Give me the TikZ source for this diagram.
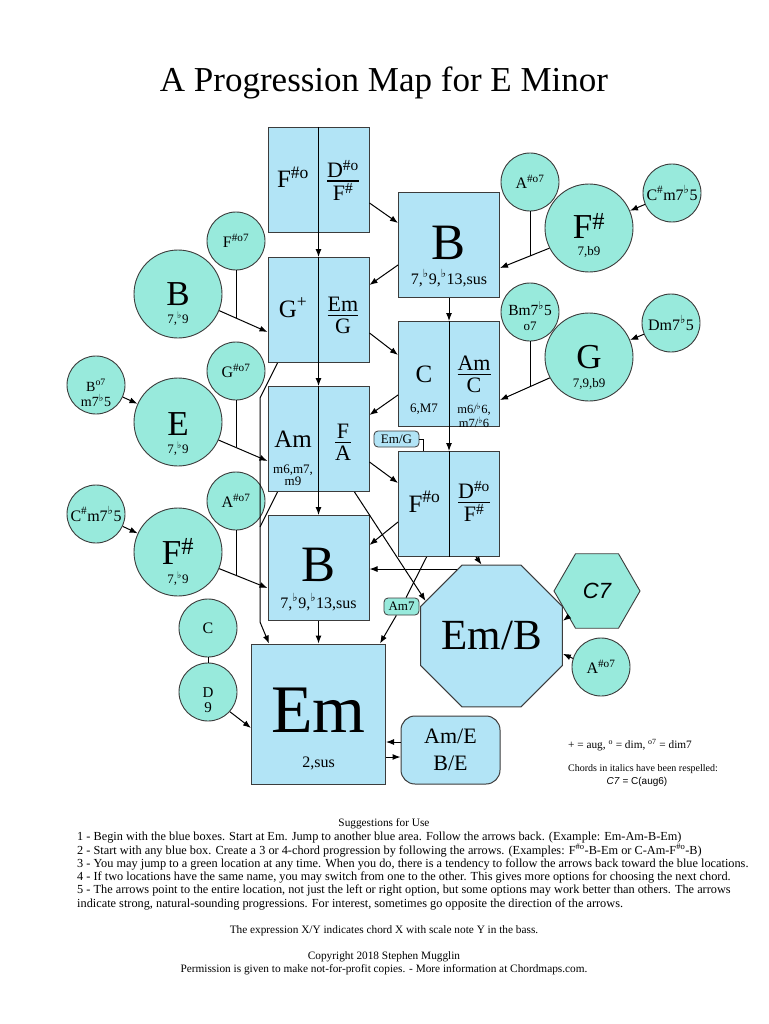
\documentclass[tikz,border=0pt]{standalone}
\usepackage{fontspec}
\setmainfont{Liberation Serif}
\newfontfamily\legendsans{Liberation Sans}
\newfontfamily\flatfont{DejaVu Sans}
\usetikzlibrary{shapes.geometric,arrows.meta,calc}

\definecolor{boxblue}{RGB}{178,228,246}
\definecolor{chordgreen}{RGB}{152,234,220}
\definecolor{rim}{RGB}{60,60,60}

\newcommand{\fsz}[2]{\fontsize{#1}{#2}\selectfont}
\newcommand{\shp}{\textsuperscript{\#}}
\newcommand{\flt}{\textsuperscript{{\flatfont ♭}}}
\newcommand{\chfrac}[2]{{\setlength{\arrayrulewidth}{1.5pt}%
  \begin{tabular}{@{}c@{}}#1\\[-4.5pt]\hline\noalign{\vskip 1pt}#2\end{tabular}}}

\begin{document}
\begin{tikzpicture}[x=1pt, y=-1pt,
  box/.style={rectangle, draw=rim, line width=1pt, fill=boxblue,
    minimum width=101pt, minimum height=105pt, inner sep=0pt},
  bigc/.style={circle, draw=rim, line width=0.9pt, fill=chordgreen,
    minimum size=88pt, inner sep=0pt},
  smallc/.style={circle, draw=rim, line width=0.9pt, fill=chordgreen,
    minimum size=58pt, inner sep=0pt, font=\fsz{16}{16}},
  tag/.style={rectangle, rounded corners=4pt, draw=rim, line width=0.8pt,
    minimum height=16pt, inner sep=0pt, font=\fsz{13}{14}},
  lbl/.style={anchor=base, inner sep=0pt, font=\fsz{25}{28}},
  frc/.style={inner sep=0pt, font=\fsz{22}{24}},
  subl/.style={anchor=base, inner sep=0pt, font=\fsz{16}{18}},
  note/.style={inner sep=0pt, align=center, font=\fsz{13}{12}},
  chord/.style={anchor=base, inner sep=0pt, font=\fsz{35}{38}},
  ext/.style={anchor=base, inner sep=0pt, font=\fsz{13}{14}},
  txt/.style={anchor=base, inner sep=0pt, font=\fsz{11.3}{13}},
  arr/.style={-{Latex[length=8pt,width=6pt]}, line width=1pt},
  link/.style={line width=1pt}
]
\fill[white] (0,0) rectangle (768,1024);
\useasboundingbox (0,0) rectangle (768,1024);

\node[anchor=base, font=\fsz{35}{40}] (title) at (384,92) {A Progression Map for E Minor};

% blue locations
\node[box] (fa) at (318.5,180) {};
\node[box] (ba) at (449,245) {};
\node[box] (ga) at (318.5,310) {};
\node[box] (ca) at (449,374) {};
\node[box] (aa) at (318.5,439) {};
\node[box] (fb) at (449,504) {};
\node[box] (bb) at (318.5,568) {};
\node[box, minimum width=134pt, minimum height=140pt] (em) at (318.5,714) {};
\node[box, rounded corners=14pt, minimum width=99pt, minimum height=68pt,
  align=center, font=\fsz{22}{27}] (ambe) at (450.5,750) {Am/E\\B/E};
\node[regular polygon, regular polygon sides=8, minimum size=146pt, draw=rim,
  line width=1pt, fill=boxblue, inner sep=0pt, font=\fsz{43}{45}] (emb) at (491.5,636) {Em/B};
\foreach \b in {fa,ga,ca,aa,fb} \draw[line width=1pt] (\b.north) -- (\b.south);

\node[lbl] (faL) at (293,188) {F\textsuperscript{\#o}};
\node[frc] (faR) at (343,184) {\chfrac{D\textsuperscript{\#o}}{F\shp}};
\node[anchor=base, font=\fsz{51}{51}] (baL) at (449,259) {B};
\node[subl] (baS) at (449,284) {7,\flt9,\flt13,sus};
\node[lbl] (gaL) at (293,317) {G\textsuperscript{+}};
\node[frc] (gaR) at (343,318) {\chfrac{Em}{G}};
\node[lbl] (caL) at (424,382) {C};
\node[anchor=base, inner sep=0pt, font=\fsz{13}{13}] (caS) at (424,412) {6,M7};
\node[frc] (caR) at (474,377) {\chfrac{Am}{C}};
\node[note, anchor=north, font=\fsz{12.5}{10.5}] (caT) at (474,403) {m6/\flt6,\\m7/\flt6};
\node[lbl] (aaL) at (293,447) {Am};
\node[note, anchor=north] (aaS) at (293,465) {m6,m7,\\m9};
\node[frc] (aaR) at (343,445) {\chfrac{F}{A}};
\node[lbl] (fbL) at (424.5,512) {F\textsuperscript{\#o}};
\node[frc] (fbR) at (474,505) {\chfrac{D\textsuperscript{\#o}}{F\shp}};
\node[anchor=base, font=\fsz{51}{51}] (bbL) at (318.5,581) {B};
\node[subl] (bbS) at (318.5,608) {7,\flt9,\flt13,sus};
\node[anchor=base, font=\fsz{68}{68}] (emL) at (318.5,732) {Em};
\node[subl] (emS) at (318.5,767) {2,sus};

\node[tag, fill=boxblue, minimum width=45pt] (emg) at (396.5,439) {Em/G};
\node[tag, fill=chordgreen, minimum width=35pt, minimum height=17pt] (am7) at (401.5,606.5) {Am7};

% green locations
\node[smallc] (asA) at (530,182) {A\textsuperscript{\#o7}};
\node[bigc] (fsA) at (589,228) {};
\node[chord] (fsAL) at (589,239) {F\shp};
\node[ext] (fsAS) at (589,255) {7,b9};
\node[smallc] (csA) at (672,193) {C\shp m7\flt5};
\node[smallc] (fsd) at (236,241) {F\textsuperscript{\#o7}};
\node[bigc] (bA) at (178,294) {};
\node[chord] (bAL) at (178,305) {B};
\node[ext] (bAS) at (178,323) {7,\flt9};
\node[smallc] (bmd) at (530,312) {};
\node[anchor=base, inner sep=0pt, font=\fsz{15.5}{16}] (bmdL) at (530,315) {Bm7\flt5};
\node[anchor=base, inner sep=0pt, font=\fsz{13}{13}] (bmdS) at (530,330) {o7};
\node[bigc] (gA) at (589,357) {};
\node[chord] (gAL) at (589,368) {G};
\node[ext] (gAS) at (589,387) {7,9,b9};
\node[smallc] (dmd) at (671,323) {Dm7\flt5};
\node[smallc] (gsd) at (236,371) {G\textsuperscript{\#o7}};
\node[smallc] (bdm) at (96,385) {};
\node[note, font=\fsz{14}{15.5}] (bdmL) at (96,393) {B\textsuperscript{o7}\\m7\flt5};
\node[bigc] (eA) at (178,422) {};
\node[chord] (eAL) at (178,435) {E};
\node[ext] (eAS) at (178,453) {7,\flt9};
\node[smallc] (asB) at (236,501) {A\textsuperscript{\#o7}};
\node[smallc] (csB) at (96,514) {C\shp m7\flt5};
\node[bigc] (fsB) at (178,552) {};
\node[chord] (fsBL) at (178,564) {F\shp};
\node[ext] (fsBS) at (178,583) {7,\flt9};
\node[smallc] (cC) at (208,628) {C};
\node[smallc] (dD) at (208,692) {};
\node[note, font=\fsz{15}{14.5}] (dDL) at (208,700) {D\\9};
\node[smallc] (asC) at (601,667) {A\textsuperscript{\#o7}};
\node[regular polygon, regular polygon sides=6, minimum size=86pt, draw=rim,
  line width=0.9pt, fill=chordgreen, inner sep=0pt,
  font=\legendsans\itshape\fsz{22}{24}] (c7) at (597,591) {C7};

% joins of the small circles
\coordinate (jA) at (530,255.8);
\coordinate (jB) at (236,318);
\coordinate (jC) at (236,447.4);
\coordinate (jD) at (530,386.5);
\coordinate (jE) at (236,575.6);

% arrows
\draw[arr] ($(fa.east)+(0,23)$) -- ($(ba.west)+(0,-22)$);
\draw[arr] (fa.south) -- (ga.north);
\draw[arr] ($(ba.west)+(0,20)$) -- ($(ga.east)+(0,-25)$);
\draw[arr] (fsA.207) -- ($(ba.east)+(0,23)$);
\draw[link] (asA.south) -- (jA);
\draw[arr] (csA) -- (fsA);
\draw[arr] ($(ga.east)+(0,23)$) -- ($(ca.west)+(0,-19)$);
\draw[arr] (ba.south) -- (ca.north);
\draw[arr] (bA.-22) -- ($(ga.west)+(0,22)$);
\draw[link] (fsd.south) -- (jB);
\draw[arr] (ga.south) -- (aa.north);
\draw[arr] ($(ga.south west)+(10,0)$) -- (260,398) -- (260,622) -- ($(em.north west)+(18,0)$);
\draw[link] ($(aa.south west)+(10,0)$) -- (260,527);
\draw[arr] (eA.-24) -- ($(aa.west)+(0,22)$);
\draw[link] (gsd.south) -- (jC);
\draw[arr] (bdm) -- (eA);
\draw[arr] ($(ca.west)+(0,21)$) -- ($(aa.east)+(0,-24)$);
\draw[arr] (gA.208) -- ($(ca.east)+(0,26)$);
\draw[link] (bmd.south) -- (jD);
\draw[arr] (dmd) -- (gA);
\draw[link] (emg.east) -| ($(fb.north west)+(25,0)$);
\draw[arr] (ca.south) -- (fb.north);
\draw[arr] ($(aa.east)+(0,23)$) -- ($(fb.west)+(0,-21)$);
\draw[arr] (aa.south) -- (bb.north);
\draw[arr] ($(aa.south east)+(-15,0)$) -- (emb.152);
\draw[arr] ($(fb.west)+(0,18)$) -- ($(bb.east)+(0,-23)$);
\draw[arr] ($(fb.south east)+(-24,0)$) -- ($(emb.north)+(-10,0)$);
\draw[arr] (emb.117) -- (emb.117 -| bb.east);
\draw[link] ($(fb.south west)!0.28!(fb.south east)$) -- (am7);
\draw[arr] (am7) -- ($(em.north east)+(-6,0)$);
\draw[arr] (bb.south) -- (em.north);
\draw[link] (cC) -- (dD);
\draw[arr] (dD.-42) -- ($(em.west)+(0,14)$);
\draw[arr] ([yshift=8pt]ambe.west) -- ([yshift=8pt]ambe.west -| em.east);
\draw[arr] ([yshift=-7pt]ambe.west -| em.east) -- ([yshift=-7pt]ambe.west);
\draw[arr] (c7.222) -- (emb.12.5);
\draw[arr] (asC.163) -- (emb.-14);
\draw[arr] (csB) -- (fsB);
\draw[arr] (fsB.-22.5) -- ($(bb.west)+(0,20)$);
\draw[link] (asB.south) -- (jE);

% legend
\node[anchor=base, font=\fsz{11.3}{12}] (key) at (630,748) {+ = aug, \textsuperscript{o} = dim, \textsuperscript{o7} = dim7};
\node[anchor=base, font=\fsz{10}{12}] (resp) at (643,771) {Chords in italics have been respelled:};
\node[anchor=base, font=\legendsans\fsz{10}{12}] (aug) at (637,784) {\textit{C7} = C(aug6)};

% notes
\node[txt] (sug) at (384,826) {Suggestions for Use};
\node[anchor=north west, inner sep=0pt, align=left, font=\fsz{12.3}{13.3}] (rules) at (77,832) {%
1 - Begin with the blue boxes. Start at Em. Jump to another blue area. Follow the arrows back. (Example: Em-Am-B-Em)\\
2 - Start with any blue box. Create a 3 or 4-chord progression by following the arrows. (Examples: F\textsuperscript{\#o}-B-Em or C-Am-F\textsuperscript{\#o}-B)\\
3 - You may jump to a green location at any time. When you do, there is a tendency to follow the arrows back toward the blue locations.\\
4 - If two locations have the same name, you may switch from one to the other. This gives more options for choosing the next chord.\\
5 - The arrows point to the entire location, not just the left or right option, but some options may work better than others. The arrows\\
indicate strong, natural-sounding progressions. For interest, sometimes go opposite the direction of the arrows.};
\node[txt] (expr) at (384,933) {The expression X/Y indicates chord X with scale note Y in the bass.};
\node[txt] (copy) at (384,959) {Copyright 2018 Stephen Mugglin};
\node[txt] (perm) at (384,972) {Permission is given to make not-for-profit copies. - More information at Chordmaps.com.};
\end{tikzpicture}
\end{document}
